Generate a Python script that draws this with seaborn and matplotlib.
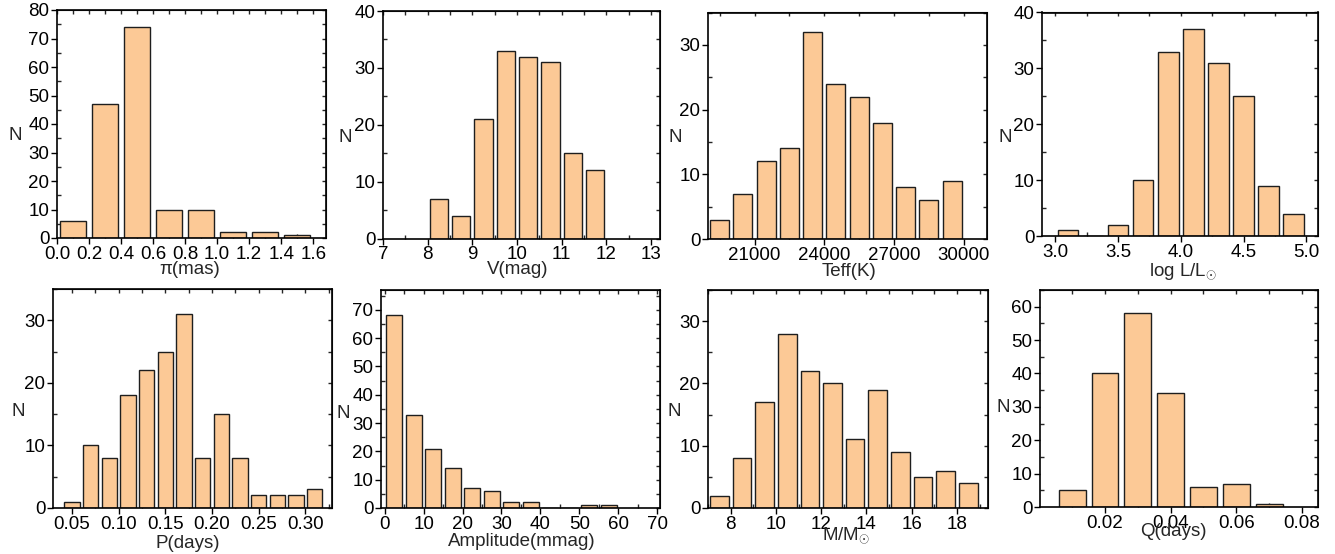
import numpy as np
import matplotlib
matplotlib.use("Agg")
import matplotlib.pyplot as plt
from matplotlib.ticker import MultipleLocator, FixedLocator
import seaborn as sns

sns.set_style("ticks")
plt.rcParams['font.family'] = ['Liberation Sans', 'DejaVu Sans']
plt.rcParams['mathtext.fontset'] = 'custom'
plt.rcParams['mathtext.rm'] = 'Liberation Sans'
plt.rcParams['mathtext.it'] = 'Liberation Sans'

# ---------------- data (bin left edges, bin width, counts) ----------------
pi_edges = [0.0, 0.2, 0.4, 0.6, 0.8, 1.0, 1.2, 1.4]
pi_counts = [6, 47, 74, 10, 10, 2, 2, 1]

v_edges = [8.0, 8.5, 9.0, 9.5, 10.0, 10.5, 11.0, 11.5]
v_counts = [7, 4, 21, 33, 32, 31, 15, 12]

teff_edges = [19000, 20000, 21000, 22000, 23000, 24000, 25000, 26000, 27000, 28000, 29000]
teff_counts = [3, 7, 12, 14, 32, 24, 22, 18, 8, 6, 9]

logl_edges = [3.0, 3.2, 3.4, 3.6, 3.8, 4.0, 4.2, 4.4, 4.6, 4.8]
logl_counts = [1, 0, 2, 10, 33, 37, 31, 25, 9, 4]

p_edges = [0.04, 0.06, 0.08, 0.10, 0.12, 0.14, 0.16, 0.18, 0.20, 0.22, 0.24, 0.26, 0.28, 0.30]
p_counts = [1, 10, 8, 18, 22, 25, 31, 8, 15, 8, 2, 2, 2, 3]

amp_edges = [0, 5, 10, 15, 20, 25, 30, 35, 40, 45, 50, 55]
amp_counts = [68, 33, 21, 14, 7, 6, 2, 2, 0, 0, 1, 1]

m_edges = [7, 8, 9, 10, 11, 12, 13, 14, 15, 16, 17, 18]
m_counts = [2, 8, 17, 28, 22, 20, 11, 19, 9, 5, 6, 4]

q_edges = [0.005, 0.015, 0.025, 0.035, 0.045, 0.055, 0.065]
q_counts = [5, 40, 58, 34, 6, 7, 1]

# tick labels
pi_ticks = [0.0, 0.2, 0.4, 0.6, 0.8, 1.0, 1.2, 1.4, 1.6]
v_ticks = [7, 8, 9, 10, 11, 12, 13]
teff_ticks = [21000, 24000, 27000, 30000]
logl_ticks = [3.0, 3.5, 4.0, 4.5, 5.0]
p_ticks = [0.05, 0.10, 0.15, 0.20, 0.25, 0.30]
amp_ticks = [0, 10, 20, 30, 40, 50, 60, 70]
m_ticks = [8, 10, 12, 14, 16, 18]
q_ticks = [0.02, 0.04, 0.06, 0.08]

W, H = 1335, 554
FILL = '#FCC996'
EDGE = '#1e1e1e'
FS = 13.5

panels = [
    # edges, width, counts, xticks, fmt, xminor, xlim, ylim, ymaj, xlabel, box(l,r,t,b), xlab center, ylab center
    (pi_edges, 0.2, pi_counts, pi_ticks, '{:.1f}', 0.1, (0, 1.68), (0, 80), 10, 'π(mas)',
     (57, 326, 10, 238), (190, 269), (15, 135)),
    (v_edges, 0.5, v_counts, v_ticks, '{:d}', 0.5, (7, 13.2), (0, 40), 10, 'V(mag)',
     (383, 660, 11, 238.5), (518, 269), (345, 137)),
    (teff_edges, 1000, teff_counts, teff_ticks, '{:d}', 1500, (19000, 31000), (0, 35), 10, 'Teff(K)',
     (708, 987, 12.5, 239), (849, 271), (675, 138)),
    (logl_edges, 0.2, logl_counts, logl_ticks, '{:.1f}', 0.25, (2.894, 5.093), (0, 40), 10, r'log L/L$_{\odot}$',
     (1042, 1318, 12.5, 236), (1183, 272), (1005, 137)),
    (p_edges, 0.02, p_counts, p_ticks, '{:.2f}', 0.025, (0.0296, 0.3286), (0, 35), 10, 'P(days)',
     (53, 332, 289, 508), (188, 544), (18, 412)),
    (amp_edges, 5, amp_counts, amp_ticks, '{:d}', 5, (-0.94, 70.7), (0, 77), 10, 'Amplitude(mmag)',
     (381, 660, 290, 508), (522, 542), (343, 414)),
    (m_edges, 1, m_counts, m_ticks, '{:d}', 1, (7.0, 19.37), (0, 35), 10, r'M/M$_{\odot}$',
     (708, 988, 290, 508), (846, 535), (674, 412)),
    (q_edges, 0.01, q_counts, q_ticks, '{:.2f}', 0.01, (0.0002, 0.0849), (0, 65), 10, 'Q(days)',
     (1040, 1318, 290, 507), (1173, 531), (1003, 407)),
]

fig = plt.figure(figsize=(W / 100, H / 100), dpi=100)
fig.patch.set_facecolor('white')

for (edges, bw, counts, xt, fmt, xminor, xlim, ylim, ymaj, xlabel,
     box, xlc, ylc) in panels:
    l, r, t, b = box
    ax = fig.add_axes([l / W, 1 - b / H, (r - l) / W, (b - t) / H])
    edges_full = list(edges) + [edges[-1] + bw]
    centers = [e + bw / 2 for e in edges]
    sns.histplot(x=centers, weights=counts, bins=edges_full, shrink=0.82,
                 color=FILL, edgecolor=EDGE, linewidth=1.0, alpha=1.0, ax=ax)
    ax.set_xlim(*xlim)
    ax.set_ylim(*ylim)
    ax.xaxis.set_major_locator(FixedLocator(xt))
    ax.set_xticklabels([fmt.format(v) for v in xt])
    ax.xaxis.set_minor_locator(MultipleLocator(xminor))
    ax.yaxis.set_major_locator(MultipleLocator(ymaj))
    ax.yaxis.set_minor_locator(MultipleLocator(ymaj / 2))
    ax.tick_params(which='major', direction='out', length=4, width=1.0,
                   labelsize=FS, pad=1.5, colors='black')
    ax.tick_params(which='minor', direction='in', length=3, width=1.0)
    for s in ax.spines.values():
        s.set_visible(True)
        s.set_linewidth(1.2)
        s.set_color('black')
    # top and right ticks pointing inward
    sx = ax.secondary_xaxis('top')
    sx.xaxis.set_major_locator(FixedLocator(xt))
    sx.xaxis.set_minor_locator(MultipleLocator(xminor))
    sx.tick_params(which='both', direction='in', labeltop=False, length=3, width=1.0)
    sy = ax.secondary_yaxis('right')
    sy.yaxis.set_major_locator(MultipleLocator(ymaj))
    sy.yaxis.set_minor_locator(MultipleLocator(ymaj / 2))
    sy.tick_params(which='both', direction='in', labelright=False, length=3, width=1.0)

    ax.set_xlabel(xlabel, fontsize=FS, va='center', ha='center')
    ax.xaxis.set_label_coords(xlc[0] / W, 1 - xlc[1] / H, transform=fig.transFigure)
    ax.set_ylabel('N', fontsize=FS, rotation=0, va='center', ha='center')
    ax.yaxis.set_label_coords(ylc[0] / W, 1 - ylc[1] / H, transform=fig.transFigure)

fig.savefig('out.png', dpi=100, facecolor='white')
